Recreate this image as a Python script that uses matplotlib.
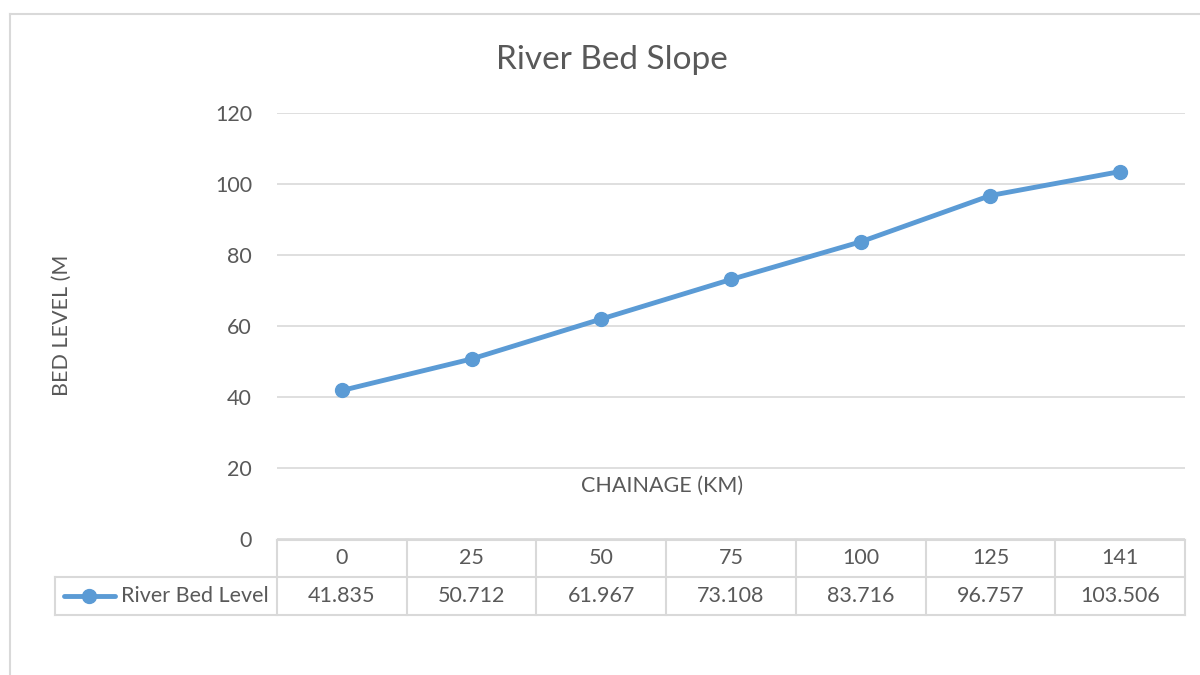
import matplotlib.pyplot as plt
from matplotlib.lines import Line2D
from matplotlib.transforms import blended_transform_factory
import numpy as np

# chainage (km) and river bed level (m)
chainage = ['0', '25', '50', '75', '100', '125', '141']
bed_level = [41.835, 50.712, 61.967, 73.108, 83.716, 96.757, 103.506]
y_ticks = [0, 20, 40, 60, 80, 100, 120]
series_name = 'River Bed Level'

W, H = 1200, 675
BLUE = '#5B9BD5'
GREY_TXT = '#595959'
GRID = '#D9D9D9'
FS = 15.5

plt.rcParams['font.family'] = ['Lato', 'DejaVu Sans']

fig = plt.figure(figsize=(12, 6.75), dpi=100)


def fx(px):
    return px / W


def fy(py):
    return 1 - py / H


# chart border (only left and top edges are visible)
fig.add_artist(Line2D([fx(10), fx(10)], [fy(14), 0], color=GRID, lw=1.5))
fig.add_artist(Line2D([fx(10), 1], [fy(14), fy(14)], color=GRID, lw=1.5))

left, right, top, bottom = 277, 1185, 113, 539
ax = fig.add_axes([fx(left), fy(bottom), fx(right - left), (bottom - top) / H])

x = np.arange(len(chainage))
ax.plot(x, bed_level, color=BLUE, lw=3.5, marker='o', markersize=10,
        solid_capstyle='round', zorder=3, clip_on=False)

ax.set_xlim(-0.5, len(chainage) - 0.5)
ax.set_ylim(0, 120)
ax.set_yticks(y_ticks)
ax.set_xticks([])
ax.yaxis.grid(True, color=GRID, lw=1.2)
ax.set_axisbelow(True)
ax.tick_params(axis='y', length=0, pad=18, labelsize=FS, labelcolor=GREY_TXT)
for s in ax.spines.values():
    s.set_visible(False)

fig.text(fx(612), fy(60), 'River Bed Slope', ha='center', va='center',
         fontsize=24, color=GREY_TXT)
fig.text(fx(62), fy(325), 'BED LEVEL (M', rotation=90, ha='center', va='center',
         fontsize=FS, color=GREY_TXT)
fig.text(fx(662), fy(486), 'CHAINAGE (KM)', ha='center', va='center',
         fontsize=FS, color=GREY_TXT)

# data table under the axis
tr = blended_transform_factory(ax.transData, fig.transFigure)
row_top, row_mid, row_bot = fy(540), fy(577), fy(615)
x0, x1 = -0.5, len(chainage) - 0.5
leg_left = x0 - (left - 55) / ((right - left) / len(chainage))
tbl = dict(color=GRID, lw=1.5, transform=tr, clip_on=False)
ax.plot([x0, x1], [row_top, row_top], **tbl)
ax.plot([leg_left, x1], [row_mid, row_mid], **tbl)
ax.plot([leg_left, x1], [row_bot, row_bot], **tbl)
ax.plot([leg_left, leg_left], [row_mid, row_bot], **tbl)
for b in np.arange(x0, x1 + 0.01, 1.0):
    ax.plot([b, b], [row_top, row_bot], **tbl)

for i, (c, v) in enumerate(zip(chainage, bed_level)):
    ax.text(i, (row_top + row_mid) / 2, c, transform=tr, ha='center', va='center',
            fontsize=FS, color=GREY_TXT)
    ax.text(i, (row_mid + row_bot) / 2, f'{v:.3f}', transform=tr, ha='center',
            va='center', fontsize=FS, color=GREY_TXT)

# legend key inside the table
ymid = (row_mid + row_bot) / 2
fig.add_artist(Line2D([fx(64), fx(115)], [ymid, ymid], color=BLUE, lw=3.5,
                      solid_capstyle='round'))
fig.add_artist(Line2D([fx(89)], [ymid], color=BLUE, marker='o', markersize=10))
fig.text(fx(121), ymid, series_name, ha='left', va='center', fontsize=FS,
         color=GREY_TXT)

fig.savefig('out.png', dpi=100, facecolor='white')
